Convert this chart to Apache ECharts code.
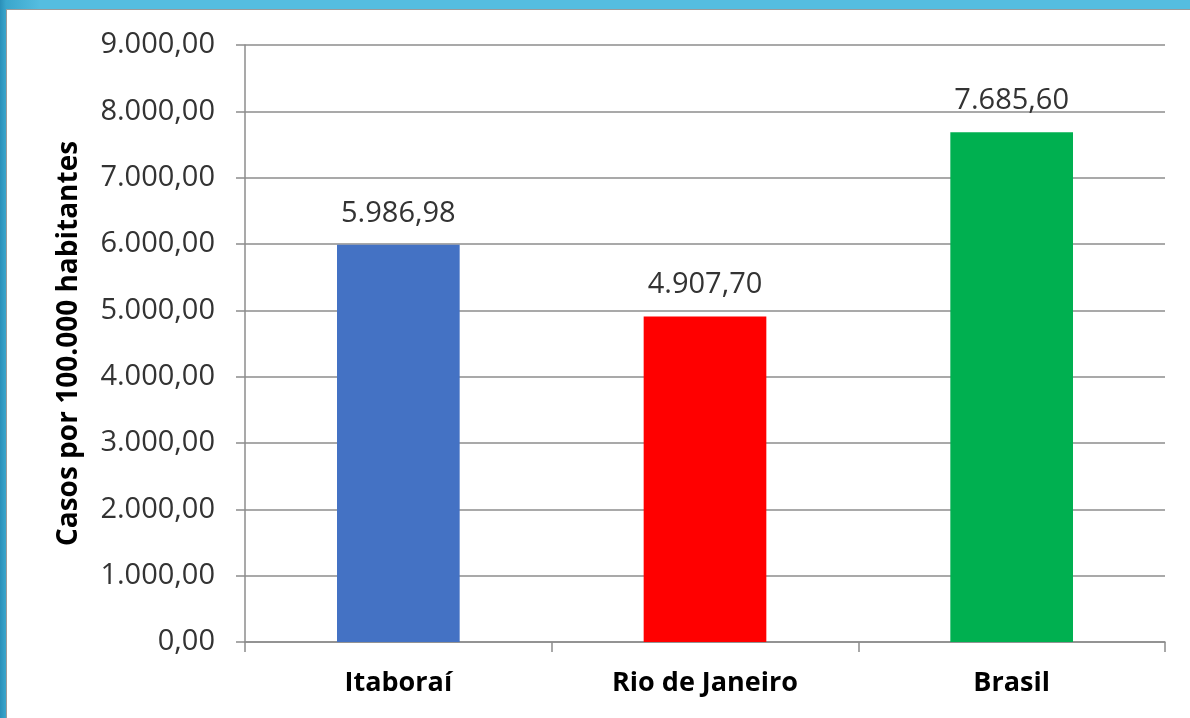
<!DOCTYPE html>
<html>
<head>
<meta charset="utf-8">
<script src="https://cdn.jsdelivr.net/npm/echarts@6/dist/echarts.min.js"></script>
<style>
    html, body { margin: 0; padding: 0; }
    body {
        width: 1190px; height: 718px; overflow: hidden; position: relative;
        background: linear-gradient(to right, #2a8fb8 0px, #3aa6cc 6px, #55bde0 40px, #55bde0 100%);
    }
    #paper {
        position: absolute; left: 6px; top: 9px; right: 0; bottom: 0;
        background: #fff; border-left: 1px solid #9a9a9a; border-top: 1px solid #9a9a9a;
    }
    #chart { position: absolute; left: 0; top: 0; width: 1190px; height: 718px; }
</style>
</head>
<body>
<div id="paper"></div>
<div id="chart"></div>

<script>
    // dados
    const categorias = ['Itaboraí', 'Rio de Janeiro', 'Brasil'];
    const casos = [5986.98, 4907.70, 7685.60];
    const cores = ['#4472C4', '#FF0000', '#00B050'];
    const yMax = 9000;
    const yPasso = 1000;

    // formato brasileiro: 7.685,60
    function fmt(v) {
        let partes = Number(v).toFixed(2).split('.');
        partes[0] = partes[0].replace(/\B(?=(\d{3})+(?!\d))/g, '.');
        return partes[0] + ',' + partes[1];
    }

    let chart = echarts.init(document.getElementById('chart'), null, {renderer: 'canvas'});
    chart.setOption({
        backgroundColor: 'transparent',
        animation: false,
        textStyle: { fontFamily: 'Open Sans' },
        grid: { left: 245, right: 25, top: 45, bottom: 76 },
        xAxis: {
            type: 'category',
            data: categorias,
            axisLine: { lineStyle: { color: '#8c8c8c', width: 1.5 } },
            axisTick: { show: true, length: 10, lineStyle: { color: '#8c8c8c', width: 1.5 } },
            axisLabel: {
                margin: 28, fontSize: 27, fontWeight: 'bold', color: '#000',
                fontFamily: 'Open Sans'
            }
        },
        yAxis: {
            type: 'value',
            min: 0, max: yMax, interval: yPasso,
            name: 'Casos por 100.000 habitantes',
            nameLocation: 'middle',
            nameGap: 162,
            nameTextStyle: { fontSize: 28, fontWeight: 'bold', color: '#000', fontFamily: 'Open Sans' },
            axisLine: { show: true, lineStyle: { color: '#8c8c8c', width: 1.5 } },
            axisTick: { show: true, length: 9, lineStyle: { color: '#8c8c8c', width: 1.5 } },
            splitLine: { lineStyle: { color: '#8c8c8c', width: 1.5 } },
            axisLabel: {
                margin: 30, fontSize: 29, color: '#333',
                formatter: v => fmt(v)
            }
        },
        series: [{
            type: 'bar',
            data: casos.map((v, i) => ({ value: v, itemStyle: { color: cores[i] } })),
            barWidth: '40%',
            label: {
                show: true, position: 'top', distance: 17,
                fontSize: 29, color: '#333',
                formatter: p => fmt(p.value)
            }
        }]
    });
</script>
</body>
</html>
